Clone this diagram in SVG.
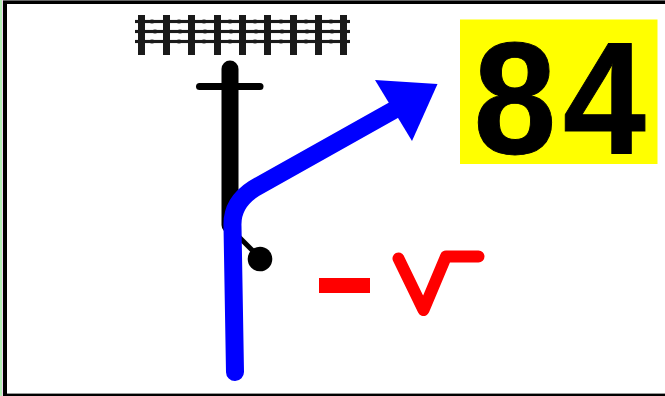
<svg xmlns="http://www.w3.org/2000/svg" width="665" height="396" viewBox="0 0 665 396">
<style>
.tie{fill:#1a1a1a}
.halo{stroke:#eee;stroke-width:5;fill:none}
.rail{stroke:#1a1a1a;stroke-width:3;fill:none}
.mark{stroke:#999;stroke-width:3;fill:none;stroke-dasharray:1 3}
.ln{fill:none;stroke-linecap:round;stroke-linejoin:round}
</style>
<rect width="665" height="396" fill="#fff"/>
<g id="frame">
<rect x="0" y="0" width="665" height="1" fill="#666"/>
<rect x="0" y="1" width="665" height="3" fill="#000"/>
<rect x="0" y="393" width="665" height="1" fill="#999"/>
<rect x="0" y="394" width="665" height="2" fill="#000"/>
<rect x="0" y="0" width="2" height="396" fill="#b6f0b6"/>
<rect x="2" y="0" width="1" height="396" fill="#f4d0f0"/>
<rect x="3" y="1" width="4" height="395" fill="#000"/>
</g>
<g id="track">
<path class="halo" d="M135 21.500H350M135 31.500H350M135 41.500H350"/>
<path class="mark" d="M152 19V24M155 29V34M152 39V44M179 19V24M180 29V34M179 39V44M204 19V24M205 29V34M204 39V44M230 19V24M231 29V34M230 39V44M255 19V24M256 29V34M255 39V44M281 19V24M282 29V34M281 39V44M306 19V24M307 29V34M306 39V44M331 19V24M332 29V34M331 39V44"/>
<rect class="tie" x="138" y="15" width="7" height="40"/>
<rect class="tie" x="163" y="15" width="7" height="40"/>
<rect class="tie" x="188" y="15" width="7" height="40"/>
<rect class="tie" x="214" y="15" width="7" height="40"/>
<rect class="tie" x="239" y="15" width="7" height="40"/>
<rect class="tie" x="264" y="15" width="7" height="40"/>
<rect class="tie" x="290" y="15" width="7" height="40"/>
<rect class="tie" x="315" y="15" width="7" height="40"/>
<rect class="tie" x="340" y="15" width="7" height="40"/>
<path class="rail" d="M135 21.500H350M135 31.500H350M135 41.500H350"/>
</g>
<g id="signal">
<path class="ln" d="M230 69V225" stroke="#000" stroke-width="17"/>
<path class="ln" d="M199.500 86.500H260" stroke="#000" stroke-width="7"/>
<path class="ln" d="M232 230L260 258" stroke="#000" stroke-width="5"/>
<circle cx="260" cy="259" r="12.300" fill="#000"/>
</g>
<g id="connectors">
<path class="ln" d="M235 372L232.500 226Q231.500 203 254 188.500L393 110.500" stroke="#00f" stroke-width="18"/>
<polygon points="375,80 437.500,84 412,141" fill="#00f"/>
</g>
<g id="route-mark">
<rect x="319" y="278" width="51" height="15" fill="#f00"/>
<path class="ln" d="M398.500 258.500L423.500 310L446 256.500H478.500" stroke="#f00" stroke-width="12"/>
</g>
<g id="speed">
<rect x="460" y="19.500" width="197.500" height="144.500" fill="#ff0"/>
<text transform="translate(0 153) scale(.93 1)" x="509.200 605.400" y="0" font-family="Liberation Sans, Arial, sans-serif" font-weight="700" font-size="160" fill="#000" stroke="#000" stroke-width="1">84</text>
</g>
</svg>
